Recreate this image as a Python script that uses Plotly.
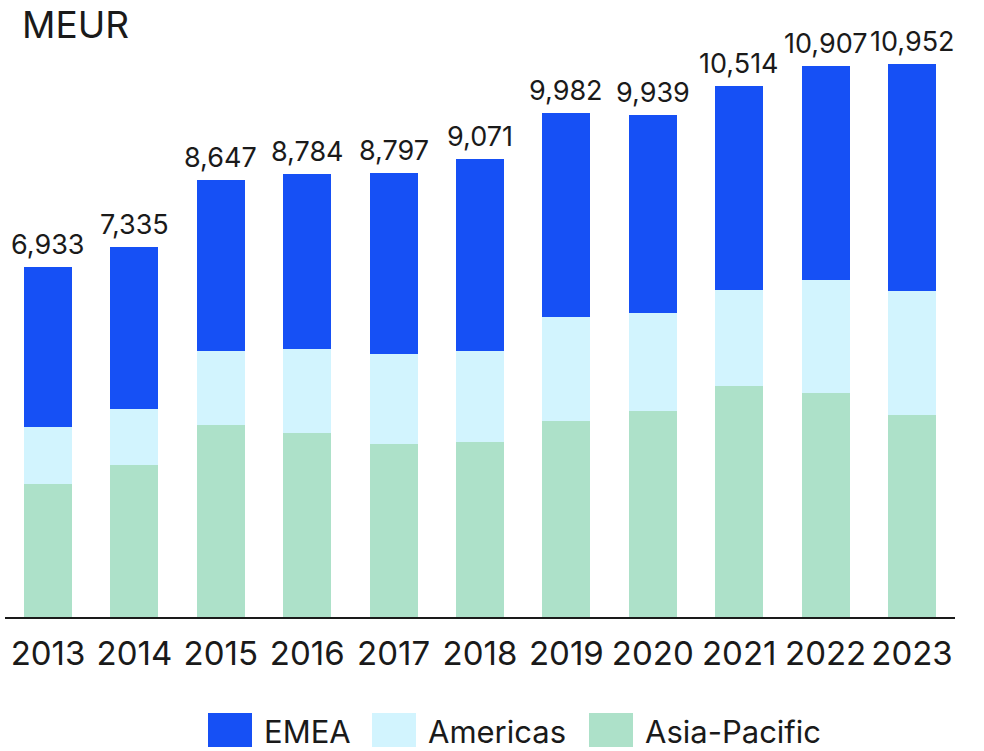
import plotly.graph_objects as go

years = ["2013", "2014", "2015", "2016", "2017", "2018", "2019", "2020", "2021", "2022", "2023"]
asia_pacific = [2635, 3011, 3803, 3645, 3427, 3467, 3883, 4081, 4576, 4437, 4002]
americas = [1129, 1109, 1466, 1664, 1783, 1803, 2060, 1941, 1902, 2238, 2456]
emea = [3169, 3215, 3378, 3475, 3587, 3801, 4039, 3917, 4036, 4232, 4494]
totals = [6933, 7335, 8647, 8784, 8797, 9071, 9982, 9939, 10514, 10907, 10952]

c_emea = "#1650F5"
c_amer = "#D2F4FE"
c_apac = "#ADE1C9"
txt = "#1a1a1a"
font = "Inter, Roboto, sans-serif"

W, H = 984, 751
L, R, T, B = 5, 29, 40, 134

fig = go.Figure()
fig.add_trace(go.Bar(x=years, y=asia_pacific, name="Asia-Pacific", marker=dict(color=c_apac, line_width=0)))
fig.add_trace(go.Bar(x=years, y=americas, name="Americas", marker=dict(color=c_amer, line_width=0)))
fig.add_trace(go.Bar(x=years, y=emea, name="EMEA", marker=dict(color=c_emea, line_width=0)))

# total labels above each stack
for i, tot in enumerate(totals):
    fig.add_annotation(x=i, y=tot, text=f"{tot:,}", showarrow=False,
                       yanchor="bottom", yshift=4,
                       font=dict(size=27, color=txt, family=font))

pw = W - L - R
ph = H - T - B

def px(x):  # pixel -> paper
    return (x - L) / pw

def py(y):
    return (H - B - y) / ph

# custom legend with large swatches
legend = [("EMEA", c_emea, 208), ("Americas", c_amer, 372), ("Asia-Pacific", c_apac, 589)]
for label, col, x0 in legend:
    fig.add_shape(type="rect", xref="paper", yref="paper",
                  x0=px(x0), x1=px(x0 + 44), y0=py(747), y1=py(713),
                  fillcolor=col, line_width=0)
    fig.add_annotation(xref="paper", yref="paper", x=px(x0 + 54), y=py(731),
                       text=label, showarrow=False, xanchor="left", yanchor="middle",
                       font=dict(size=31, color=txt, family=font))

fig.add_annotation(xref="paper", yref="paper", x=px(20), y=py(0),
                   text="MEUR", showarrow=False, xanchor="left", yanchor="top",
                   font=dict(size=37, color=txt, family=font))

step = 86.4
r0 = -(48 - L) / step
r1 = r0 + pw / step

fig.update_layout(
    width=W, height=H,
    barmode="stack",
    bargap=0.444,
    showlegend=False,
    plot_bgcolor="white",
    paper_bgcolor="white",
    margin=dict(l=L, r=R, t=T, b=B, autoexpand=False),
    font=dict(family=font, color=txt),
)
fig.update_xaxes(
    type="category",
    range=[r0, r1],
    showline=True, linecolor=txt, linewidth=2,
    tickfont=dict(size=33, color=txt, family=font),
    ticks="", showgrid=False, ticklabelstandoff=6,
)
fig.update_yaxes(range=[0, 11430], visible=False, showgrid=False)

# drop the default body margin so the figure fills the window
fig.write_html("out.html", config={"displayModeBar": False},
               post_script="document.body.style.margin='0';")
